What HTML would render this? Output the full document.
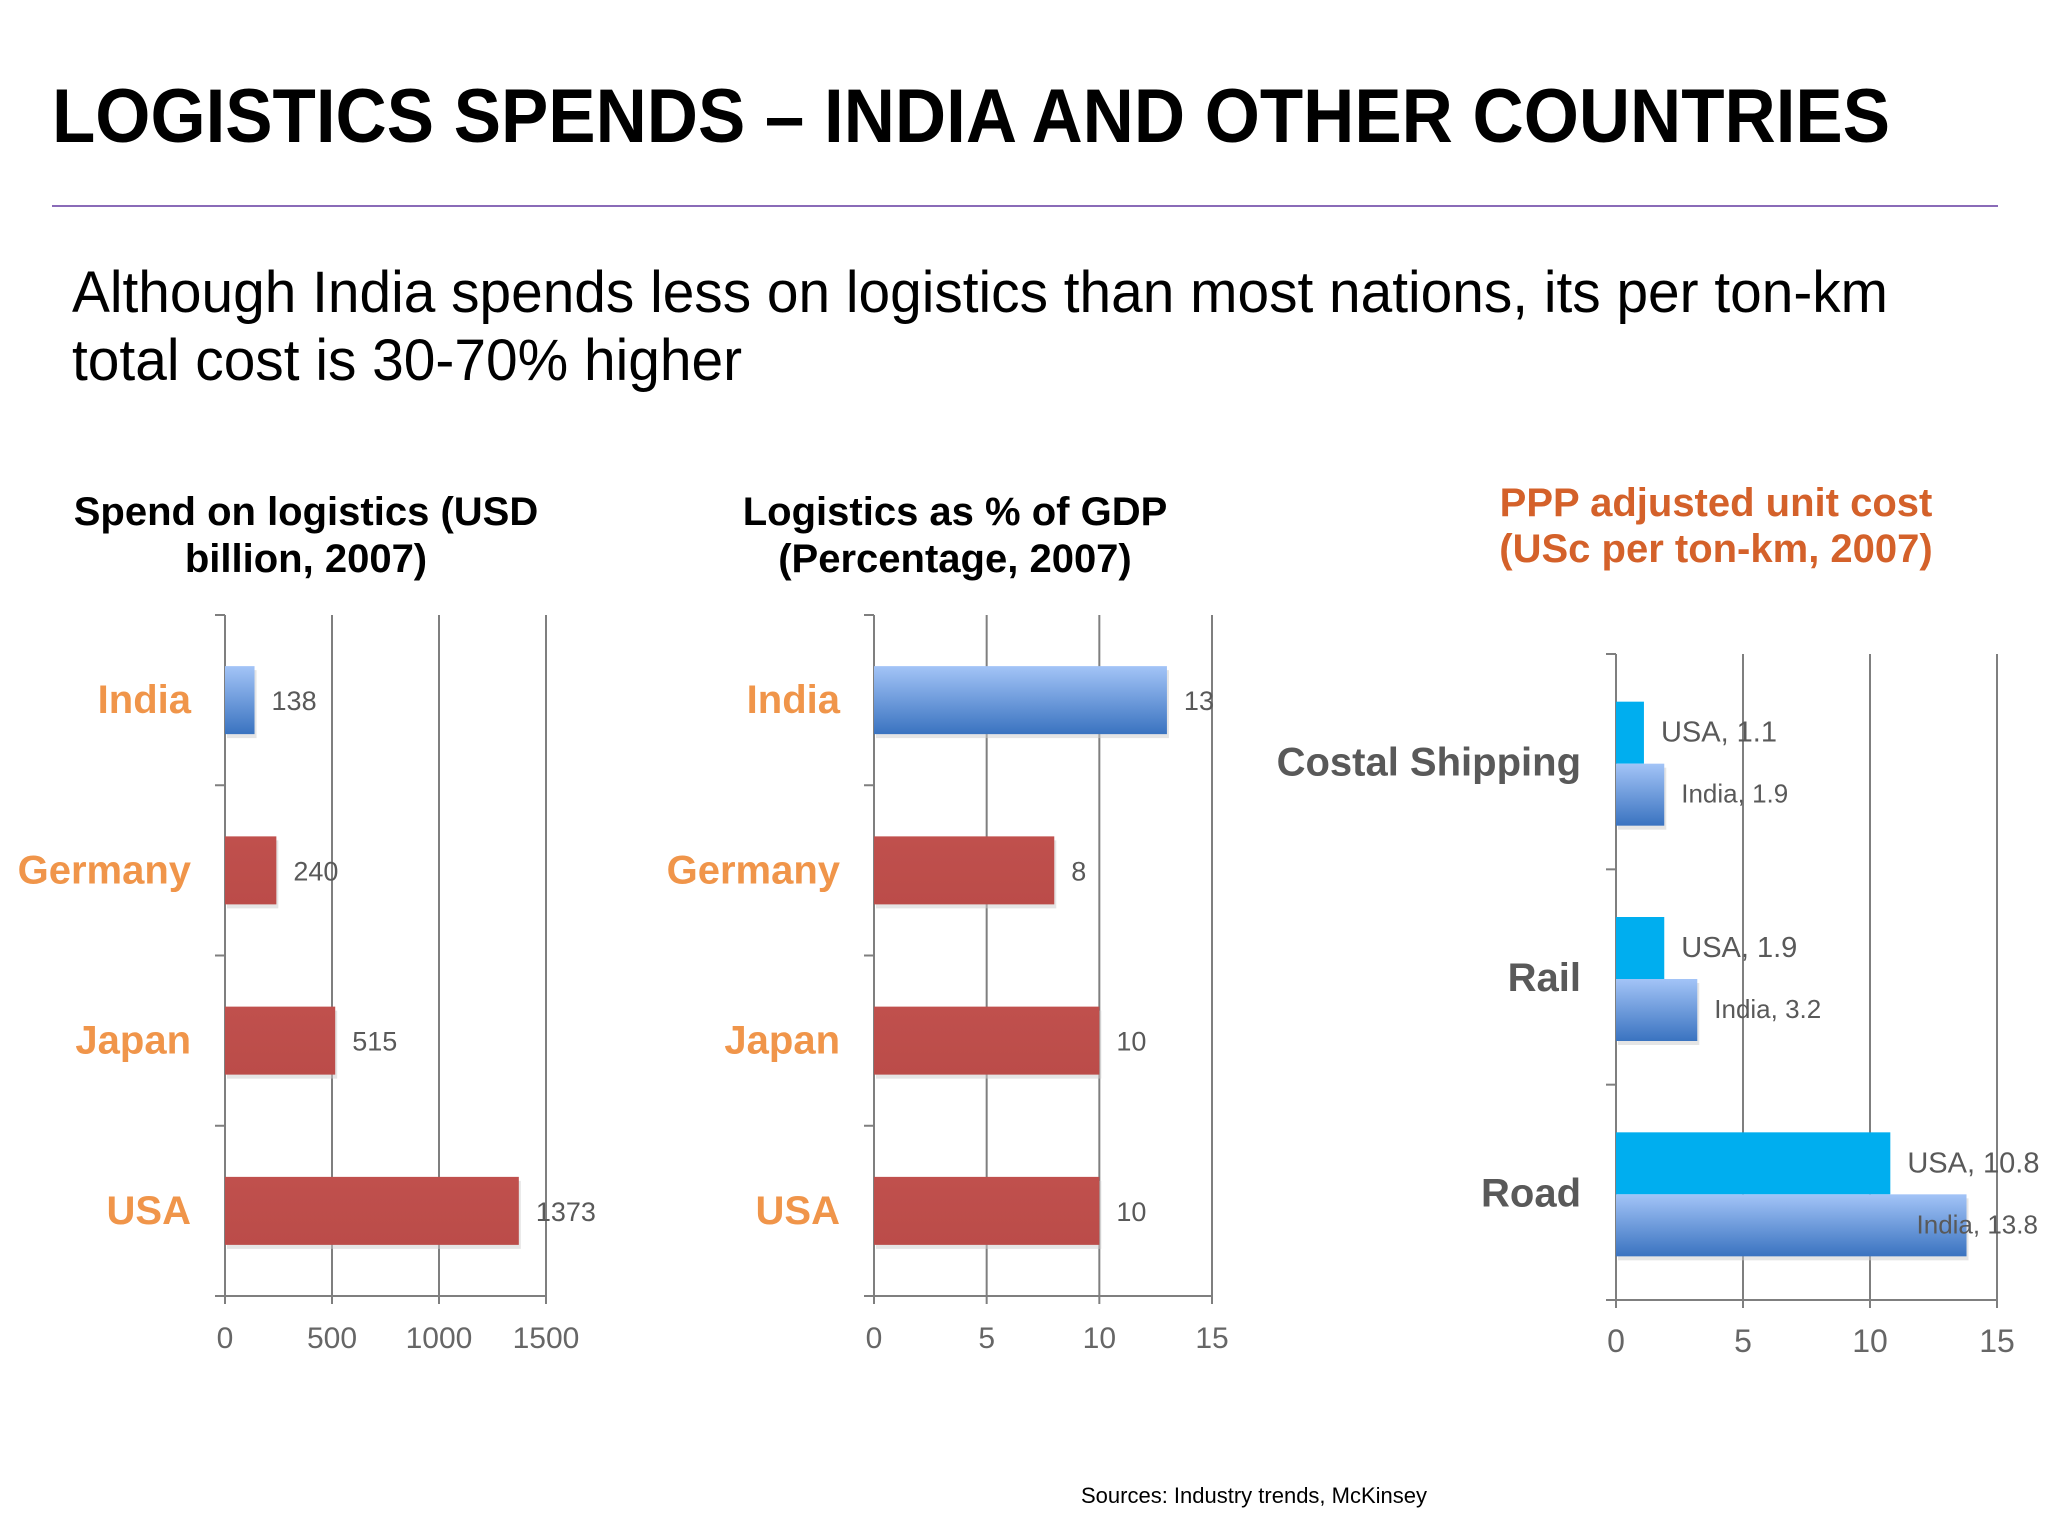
<!DOCTYPE html>
<html><head><meta charset="utf-8"><style>
html,body{margin:0;padding:0;background:#fff;}
svg{display:block;font-family:"Liberation Sans",sans-serif;}
</style></head><body>
<svg id="s" width="2048" height="1536" viewBox="0 0 2048 1536" xmlns="http://www.w3.org/2000/svg">
<defs>
<linearGradient id="gInd" x1="0" y1="0" x2="0" y2="1"><stop offset="0" stop-color="#a3c4f7"/><stop offset="1" stop-color="#3a73c0"/></linearGradient>
<linearGradient id="gRed" x1="0" y1="0" x2="0" y2="1"><stop offset="0" stop-color="#c0504d"/><stop offset="1" stop-color="#bb4c49"/></linearGradient>
</defs>
<text x="52" y="142" font-size="76" font-weight="bold" fill="#000" textLength="1838" lengthAdjust="spacingAndGlyphs">LOGISTICS SPENDS – INDIA AND OTHER COUNTRIES</text>
<line x1="52" y1="206" x2="1998" y2="206" stroke="#8a6bb8" stroke-width="2"/>
<text x="72" y="312" font-size="58" fill="#000" textLength="1816" lengthAdjust="spacingAndGlyphs">Although India spends less on logistics than most nations, its per ton-km</text>
<text x="72" y="380" font-size="58" fill="#000" textLength="670" lengthAdjust="spacingAndGlyphs">total cost is 30-70% higher</text>

<text x="306" y="525" font-size="40" font-weight="bold" text-anchor="middle">Spend on logistics (USD</text>
<text x="306" y="572" font-size="40" font-weight="bold" text-anchor="middle">billion, 2007)</text>
<text x="955" y="525" font-size="40" font-weight="bold" text-anchor="middle">Logistics as % of GDP</text>
<text x="955" y="572" font-size="40" font-weight="bold" text-anchor="middle">(Percentage, 2007)</text>
<text x="1716" y="516" font-size="40" font-weight="bold" fill="#d4612a" text-anchor="middle">PPP adjusted unit cost</text>
<text x="1716" y="562" font-size="40" font-weight="bold" fill="#d4612a" text-anchor="middle">(USc per ton-km, 2007)</text>
<text x="1254" y="1503" font-size="22" text-anchor="middle">Sources: Industry trends, McKinsey</text>
<g id="c1"></g>
<g id="c2"></g>
<g id="c3"></g>
</svg>
<script>
const countries = ["India","Germany","Japan","USA"];
const spendValues = [138,240,515,1373];
const spendTicks = [0,500,1000,1500];
const gdpValues = [13,8,10,10];
const gdpTicks = [0,5,10,15];
const modes = ["Costal Shipping","Rail","Road"];
const usaCost = [1.1,1.9,10.8];
const indiaCost = [1.9,3.2,13.8];
const costTicks = [0,5,10,15];

const NS="http://www.w3.org/2000/svg";
function mk(parent,tag,attrs,txt){const e=document.createElementNS(NS,tag);for(const k in attrs)e.setAttribute(k,attrs[k]);if(txt!==undefined)e.textContent=txt;parent.appendChild(e);return e;}

function axes(g,x0,x1,y0,y1,ticks,nCat,fs){
  const max=ticks[ticks.length-1];
  const sx=v=>x0+(v/max)*(x1-x0);
  ticks.forEach((t,i)=>{
    const l=mk(g,'line',{x1:sx(t),x2:sx(t),y1:y0,y2:y1+8,stroke:'#7f7f7f','stroke-width':2});
    
    
    const tx=mk(g,'text',{x:sx(t),y:y1+52,'font-size':fs,fill:'#666','text-anchor':'middle'},t);
    
    
  });
  const bl=mk(g,'line',{x1:x0-10,x2:x1,y1:y1,y2:y1,stroke:'#7f7f7f','stroke-width':2});
  
  
  for(let i=0;i<=nCat;i++){
    const y=y0+i*(y1-y0)/nCat;
    const tk=mk(g,'line',{x1:x0-10,x2:x0,y1:y,y2:y,stroke:'#7f7f7f','stroke-width':2});
    
    
  }
  return sx;
}

function countryChart(id,x0,x1,ticks,vals){
  const g=document.getElementById(id);
  const y0=615,y1=1296,band=(y1-y0)/countries.length,bh=68;
  const sx=axes(g,x0,x1,y0,y1,ticks,countries.length,30);
  countries.forEach((c,i)=>{
    const cy=y0+band*(i+0.5);
    const sh=mk(g,'rect',{x:x0+2,y:cy-bh/2+4,width:sx(vals[i])-x0,height:bh,fill:'#ccc',opacity:0.5});
    
    
    const r=mk(g,'rect',{x:x0,y:cy-bh/2,width:sx(vals[i])-x0,height:bh,fill:c==='India'?'url(#gInd)':'url(#gRed)'});
    
    
    const v=mk(g,'text',{x:sx(vals[i])+17,y:cy+10,'font-size':27,fill:'#595959'},vals[i]);
    
    
    const l=mk(g,'text',{x:x0-34,y:cy+13,'font-size':40,'font-weight':'bold',fill:'#f0954a','text-anchor':'end'},c);
    
    
  });
}
countryChart('c1',225,546,spendTicks,spendValues);
countryChart('c2',874,1212,gdpTicks,gdpValues);

(function(){
  const g=document.getElementById('c3');
  const x0=1616,x1=1997,y0=654,y1=1300,band=(y1-y0)/modes.length,bh=62;
  const sx=axes(g,x0,x1,y0,y1,costTicks,modes.length,32);
  modes.forEach((m,i)=>{
    const cy=y0+band*(i+0.5)+2;
    const u=mk(g,'rect',{x:x0,y:cy-bh,width:sx(usaCost[i])-x0,height:bh,fill:'#00aeef'});
    
    
    const sh=mk(g,'rect',{x:x0+2,y:cy+4,width:sx(indiaCost[i])-x0,height:bh,fill:'#ccc',opacity:0.5});
    
    
    const d=mk(g,'rect',{x:x0,y:cy,width:sx(indiaCost[i])-x0,height:bh,fill:'url(#gInd)'});
    
    
    const ut=mk(g,'text',{x:sx(usaCost[i])+17,y:cy-22,'font-size':29,fill:'#595959'},'USA, '+usaCost[i]);
    
    
    const it=mk(g,'text',{x:sx(indiaCost[i])+17,y:cy+39,'font-size':26,fill:'#595959'},'India, '+indiaCost[i]);
    if(indiaCost[i]>12){it.setAttribute('x',sx(indiaCost[i])-50);}
    
    
    const l=mk(g,'text',{x:x0-35,y:cy+12,'font-size':40,'font-weight':'bold',fill:'#595959','text-anchor':'end'},m);
    
    
  });
})();
</script>
</body></html>
